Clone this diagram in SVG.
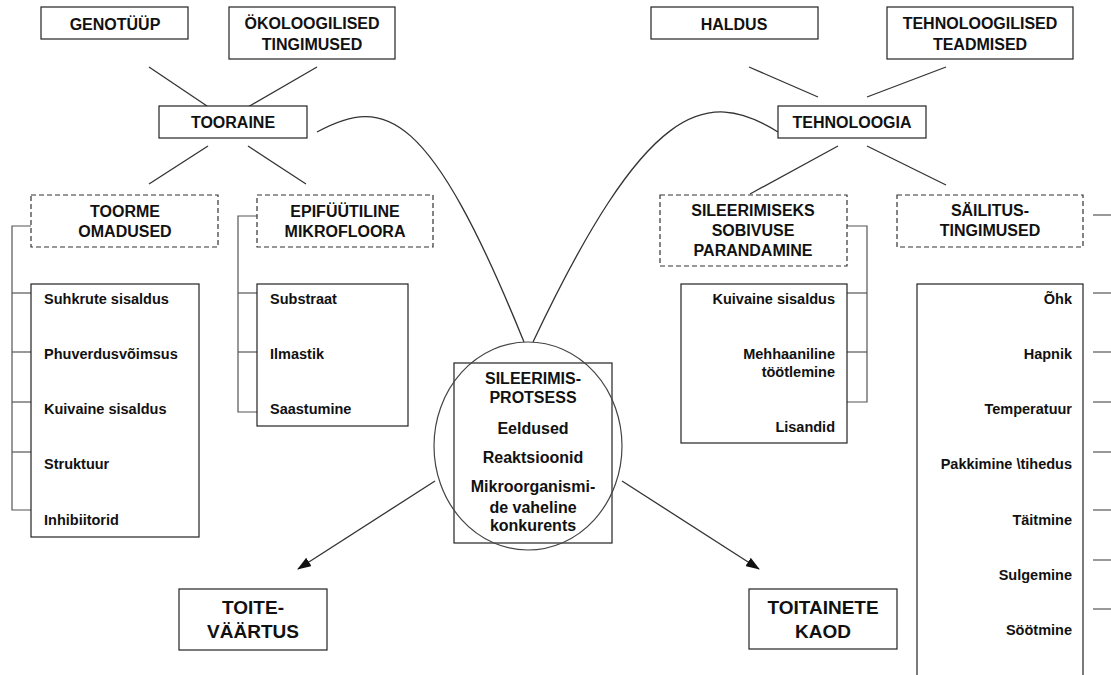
<svg xmlns="http://www.w3.org/2000/svg" width="1111" height="675" viewBox="0 0 1111 675">
<style>
.box{fill:#fff;stroke:#222;stroke-width:1.2}
.dbox{fill:#fff;stroke:#333;stroke-width:1.2;stroke-dasharray:5 3}
.ln{fill:none;stroke:#333;stroke-width:1.3}
.br{fill:none;stroke:#555;stroke-width:1.2}
.h{font-family:"Liberation Sans",Arial,sans-serif;font-weight:bold;font-size:16px;fill:#111;text-anchor:middle}
.it{font-family:"Liberation Sans",Arial,sans-serif;font-weight:bold;font-size:14.5px;fill:#111}
.r{text-anchor:end}
.big{font-size:19px}
</style>
<defs>
<marker id="ah" markerUnits="userSpaceOnUse" markerWidth="14" markerHeight="10" refX="13" refY="5" orient="auto">
<path d="M0,0 L14,5 L0,10 Z" fill="#111"/>
</marker>
</defs>
<rect width="1111" height="675" fill="#fff"/>

<g id="connectors">
<line class="ln" x1="149" y1="67" x2="207" y2="106"/>
<line class="ln" x1="317" y1="67" x2="248" y2="107"/>
<line class="ln" x1="208" y1="146" x2="149" y2="184"/>
<line class="ln" x1="248" y1="146" x2="306" y2="184"/>
<line class="ln" x1="749" y1="67" x2="818" y2="97"/>
<line class="ln" x1="946" y1="67" x2="867" y2="97"/>
<line class="ln" x1="838" y1="146" x2="750" y2="194"/>
<line class="ln" x1="867" y1="146" x2="946" y2="185"/>
<path class="ln" d="M317,132 C385,95 430,110 524,342"/>
<path class="ln" d="M778,132 C705,86 645,105 533,342"/>
<line class="ln" x1="435" y1="481" x2="298" y2="569" marker-end="url(#ah)"/>
<line class="ln" x1="622" y1="481" x2="759" y2="569" marker-end="url(#ah)"/>
<polyline class="br" points="31,226 12,226 12,510 31,510"/>
<line class="br" x1="12" y1="293" x2="31" y2="293"/>
<line class="br" x1="12" y1="352" x2="31" y2="352"/>
<line class="br" x1="12" y1="402" x2="31" y2="402"/>
<line class="br" x1="12" y1="452" x2="31" y2="452"/>
<polyline class="br" points="257,216 238,216 238,412 257,412"/>
<line class="br" x1="238" y1="293" x2="257" y2="293"/>
<line class="br" x1="238" y1="352" x2="257" y2="352"/>
<polyline class="br" points="847,226 867,226 867,402 847,402"/>
<line class="br" x1="847" y1="293" x2="867" y2="293"/>
<line class="br" x1="847" y1="352" x2="867" y2="352"/>
<line class="br" x1="1093" y1="215" x2="1111" y2="215"/>
<line class="br" x1="1093" y1="293" x2="1111" y2="293"/>
<line class="br" x1="1093" y1="352" x2="1111" y2="352"/>
<line class="br" x1="1093" y1="402" x2="1111" y2="402"/>
<line class="br" x1="1093" y1="452" x2="1111" y2="452"/>
<line class="br" x1="1093" y1="510" x2="1111" y2="510"/>
<line class="br" x1="1093" y1="560" x2="1111" y2="560"/>
<line class="br" x1="1093" y1="609" x2="1111" y2="609"/>
</g>

<g id="genotuup"><rect class="box" x="41" y="7" width="147" height="32"/><text class="h" x="115" y="30">GENOTÜÜP</text></g>
<g id="okoloogilised"><rect class="box" x="229" y="7" width="166" height="52"/><text class="h" x="312" y="29">ÖKOLOOGILISED</text><text class="h" x="312" y="50">TINGIMUSED</text></g>
<g id="tooraine"><rect class="box" x="159" y="106" width="148" height="32"/><text class="h" x="233" y="128">TOORAINE</text></g>
<g id="toorme"><rect class="dbox" x="31" y="195" width="187" height="52"/><text class="h" x="125" y="217">TOORME</text><text class="h" x="125" y="237">OMADUSED</text></g>
<g id="epifuutiline"><rect class="dbox" x="257" y="195" width="176" height="52"/><text class="h" x="345" y="217">EPIFÜÜTILINE</text><text class="h" x="345" y="237">MIKROFLOORA</text></g>
<g id="toorme-list"><rect class="box" x="31" y="284" width="168" height="253"/>
<text class="it" x="44" y="304">Suhkrute sisaldus</text>
<text class="it" x="44" y="359">Phuverdusvõimsus</text>
<text class="it" x="44" y="414">Kuivaine sisaldus</text>
<text class="it" x="44" y="469">Struktuur</text>
<text class="it" x="44" y="525">Inhibiitorid</text></g>
<g id="epif-list"><rect class="box" x="257" y="284" width="151" height="142"/>
<text class="it" x="270" y="304">Substraat</text>
<text class="it" x="270" y="359">Ilmastik</text>
<text class="it" x="270" y="414">Saastumine</text></g>

<g id="haldus"><rect class="box" x="651" y="7" width="167" height="32"/><text class="h" x="734" y="30">HALDUS</text></g>
<g id="tehnoloogilised"><rect class="box" x="887" y="7" width="186" height="52"/><text class="h" x="980" y="29">TEHNOLOOGILISED</text><text class="h" x="980" y="50">TEADMISED</text></g>
<g id="tehnoloogia"><rect class="box" x="778" y="106" width="148" height="32"/><text class="h" x="852" y="128">TEHNOLOOGIA</text></g>
<g id="sileerimiseks"><rect class="dbox" x="660" y="195" width="187" height="71"/><text class="h" x="753" y="216">SILEERIMISEKS</text><text class="h" x="753" y="236">SOBIVUSE</text><text class="h" x="753" y="256">PARANDAMINE</text></g>
<g id="sailitus"><rect class="dbox" x="897" y="195" width="186" height="52"/><text class="h" x="990" y="216">SÄILITUS-</text><text class="h" x="990" y="236">TINGIMUSED</text></g>
<g id="sileerimiseks-list"><rect class="box" x="681" y="284" width="166" height="159"/>
<text class="it r" x="835" y="304">Kuivaine sisaldus</text>
<text class="it r" x="835" y="359">Mehhaaniline</text>
<text class="it r" x="835" y="377">töötlemine</text>
<text class="it r" x="835" y="432">Lisandid</text></g>
<g id="sailitus-list"><rect class="box" x="917" y="284" width="166" height="410"/>
<text class="it r" x="1072" y="304">Õhk</text>
<text class="it r" x="1072" y="359">Hapnik</text>
<text class="it r" x="1072" y="414">Temperatuur</text>
<text class="it r" x="1072" y="469">Pakkimine \tihedus</text>
<text class="it r" x="1072" y="525">Täitmine</text>
<text class="it r" x="1072" y="580">Sulgemine</text>
<text class="it r" x="1072" y="635">Söötmine</text></g>

<g id="protsess"><rect class="box" x="454" y="363" width="158" height="180"/>
<ellipse cx="528" cy="446" rx="94" ry="104" fill="none" stroke="#444" stroke-width="1.2"/>
<text class="h" x="533" y="384">SILEERIMIS-</text>
<text class="h" x="533" y="403">PROTSESS</text>
<text class="h" x="533" y="434">Eeldused</text>
<text class="h" x="533" y="463">Reaktsioonid</text>
<text class="h" x="533" y="492">Mikroorganismi-</text>
<text class="h" x="533" y="513">de vaheline</text>
<text class="h" x="533" y="531">konkurents</text></g>

<g id="toitevaartus"><rect class="box" x="179" y="589" width="148" height="61"/><text class="h big" x="253" y="614">TOITE-</text><text class="h big" x="253" y="638">VÄÄRTUS</text></g>
<g id="toitainete"><rect class="box" x="749" y="589" width="148" height="60"/><text class="h big" x="823" y="614">TOITAINETE</text><text class="h big" x="823" y="638">KAOD</text></g>
</svg>
